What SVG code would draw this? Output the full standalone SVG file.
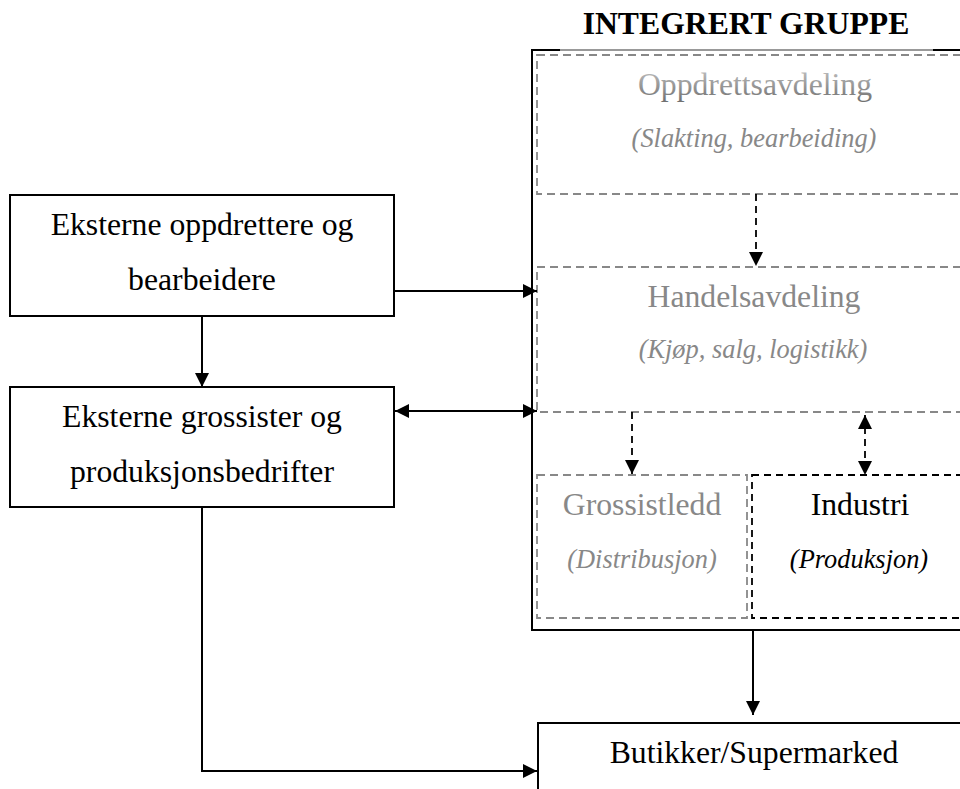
<svg xmlns="http://www.w3.org/2000/svg" width="960" height="789" viewBox="0 0 960 789">
<style>
.box{fill:#fff;stroke:#000;stroke-width:2}
.gbox{fill:none;stroke:#888;stroke-width:1.8;stroke-dasharray:8,5}
.kbox{fill:none;stroke:#000;stroke-width:1.8;stroke-dasharray:7,5}
.t{font-family:"Liberation Serif","Times New Roman",serif;font-size:31.7px;text-anchor:middle;fill:#000}
.i{font-family:"Liberation Serif","Times New Roman",serif;font-size:26.4px;font-style:italic;text-anchor:middle}
.g{fill:#888}
.ln{fill:none;stroke:#000;stroke-width:2}
.dl{fill:none;stroke:#000;stroke-width:1.8;stroke-dasharray:7,5}
</style>
<defs>
<marker id="ah" viewBox="0 0 14 14" refX="14" refY="7" markerWidth="14" markerHeight="14" markerUnits="userSpaceOnUse" orient="auto-start-reverse">
<path d="M0,0 L14,7 L0,14 z" fill="#000"/>
</marker>
<linearGradient id="gr" x1="0" y1="0" x2="0" y2="1">
<stop offset="0" stop-color="#c4c4c4"/>
<stop offset="1" stop-color="#707070"/>
</linearGradient>
</defs>
<rect width="960" height="789" fill="#fff"/>

<g id="integrert-gruppe">
<rect class="box" x="532" y="50" width="450" height="580" fill="none"/>
<line x1="560" y1="50" x2="933" y2="50" stroke="#999" stroke-width="2.2"/>
<text x="746" y="34" class="t" font-weight="bold">INTEGRERT GRUPPE</text>
</g>

<g id="oppdrettsavdeling">
<rect class="gbox" x="537" y="55" width="440" height="139"/>
<text x="755" y="95" class="t" fill="url(#gr)" style="fill:url(#gr)">Oppdrettsavdeling</text>
<text x="754" y="147" class="i g">(Slakting, bearbeiding)</text>
</g>

<g id="handelsavdeling">
<rect class="gbox" x="537" y="267" width="440" height="145"/>
<text x="754" y="307" class="t g">Handelsavdeling</text>
<text x="753" y="358" class="i g">(Kjøp, salg, logistikk)</text>
</g>

<g id="grossistledd">
<rect class="gbox" x="537" y="475" width="210" height="143"/>
<text x="642" y="515" class="t g">Grossistledd</text>
<text x="642" y="568" class="i g">(Distribusjon)</text>
</g>

<g id="industri">
<rect class="kbox" x="752" y="475" width="230" height="143"/>
<text x="860" y="515" class="t">Industri</text>
<text x="859" y="568" class="i">(Produksjon)</text>
</g>

<g id="eksterne-oppdrettere">
<rect class="box" x="10" y="195" width="384" height="121"/>
<text x="202" y="235" class="t">Eksterne oppdrettere og</text>
<text x="202" y="290" class="t">bearbeidere</text>
</g>

<g id="eksterne-grossister">
<rect class="box" x="10" y="387" width="384" height="120"/>
<text x="202" y="427" class="t">Eksterne grossister og</text>
<text x="202" y="482" class="t">produksjonsbedrifter</text>
</g>

<g id="butikker">
<rect class="box" x="538" y="723" width="440" height="80"/>
<text x="754" y="763" class="t">Butikker/Supermarked</text>
</g>

<g id="connectors">
<line class="ln" x1="202" y1="316" x2="202" y2="387" marker-end="url(#ah)"/>
<line class="ln" x1="394" y1="291" x2="537" y2="291" marker-end="url(#ah)"/>
<line class="ln" x1="395" y1="411" x2="537" y2="411" marker-start="url(#ah)" marker-end="url(#ah)"/>
<polyline class="ln" points="202,507 202,771 537,771" marker-end="url(#ah)"/>
<line class="ln" x1="753" y1="630" x2="753" y2="715" marker-end="url(#ah)"/>
<line class="dl" x1="756" y1="194" x2="756" y2="266" marker-end="url(#ah)"/>
<line class="dl" x1="632" y1="412" x2="632" y2="474" marker-end="url(#ah)"/>
<line class="dl" x1="865" y1="415" x2="865" y2="475" marker-start="url(#ah)" marker-end="url(#ah)"/>
</g>
</svg>
